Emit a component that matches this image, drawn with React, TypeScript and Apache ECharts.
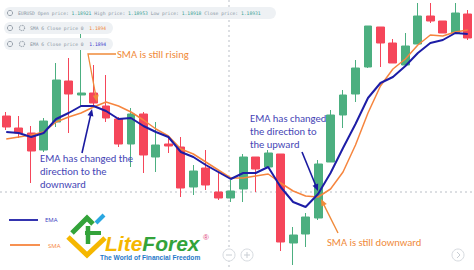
import React, { useEffect, useRef } from "react";
import * as echarts from "echarts";

// 38 consecutive bars; the first and last sit partly outside the frame
const categories: string[] = Array.from({ length: 38 }, (_, i) => `bar${i + 1}`);

// [open, close, low, high]
const candles: number[][] = [
  [1.18854, 1.18843, 1.1884, 1.18858],
  [1.18842, 1.18837, 1.18832, 1.18854],
  [1.18837, 1.18819, 1.18787, 1.18844],
  [1.1882, 1.18849, 1.18818, 1.18852],
  [1.18848, 1.1889, 1.18843, 1.18907],
  [1.18889, 1.18876, 1.18837, 1.18912],
  [1.18875, 1.18877, 1.18863, 1.18937],
  [1.18877, 1.18867, 1.18865, 1.18905],
  [1.18864, 1.18852, 1.18848, 1.18895],
  [1.18851, 1.18826, 1.18823, 1.18853],
  [1.18826, 1.18856, 1.18803, 1.18862],
  [1.18856, 1.18815, 1.18797, 1.18858],
  [1.18813, 1.18825, 1.18798, 1.18848],
  [1.18826, 1.18824, 1.18817, 1.18833],
  [1.18823, 1.18782, 1.18773, 1.18833],
  [1.18783, 1.18799, 1.18775, 1.18805],
  [1.18802, 1.18785, 1.1878, 1.1882],
  [1.18778, 1.18772, 1.1877, 1.18798],
  [1.18772, 1.18779, 1.18768, 1.1879],
  [1.18781, 1.18813, 1.18768, 1.18816],
  [1.18813, 1.18801, 1.18778, 1.18813],
  [1.18803, 1.18817, 1.18803, 1.1882],
  [1.18816, 1.18728, 1.18719, 1.18816],
  [1.18727, 1.18735, 1.18705, 1.18743],
  [1.18736, 1.18753, 1.18723, 1.18757],
  [1.18752, 1.18806, 1.1875, 1.1881],
  [1.18808, 1.18855, 1.18808, 1.1886],
  [1.18855, 1.18875, 1.18842, 1.1888],
  [1.18876, 1.18902, 1.18868, 1.1891],
  [1.18903, 1.18944, 1.18902, 1.18944],
  [1.18943, 1.18927, 1.18903, 1.18943],
  [1.18927, 1.18907, 1.18907, 1.18931],
  [1.18905, 1.18924, 1.18905, 1.18937],
  [1.18926, 1.18954, 1.18926, 1.18967],
  [1.18954, 1.18949, 1.18947, 1.18967],
  [1.18949, 1.18937, 1.18937, 1.18949],
  [1.18937, 1.18957, 1.18937, 1.18967],
  [1.18956, 1.18932, 1.1893, 1.1896],
];

const emaValues: number[] = [
  1.18838, 1.18837, 1.18833, 1.18837, 1.18851, 1.18857, 1.18864, 1.18864,
  1.18859, 1.18851, 1.18852, 1.18844, 1.18838, 1.18833, 1.18818, 1.18813,
  1.18805, 1.18798, 1.18791, 1.18797, 1.18797, 1.18803, 1.18783, 1.18768,
  1.18763, 1.18776, 1.18797, 1.18822, 1.18846, 1.18872, 1.18887, 1.18893,
  1.18904, 1.18917, 1.18927, 1.1893, 1.18937, 1.18936,
];

const smaValues: number[] = [
  1.18831, 1.18833, 1.18835, 1.18838, 1.18848, 1.18853, 1.18857, 1.18863,
  1.18868, 1.18864, 1.18858, 1.1885, 1.18841, 1.18834, 1.18821, 1.18816,
  1.18808, 1.188, 1.18792, 1.18792, 1.18794, 1.18796, 1.18787, 1.18779,
  1.18774, 1.18773, 1.18781, 1.18798, 1.18825, 1.18857, 1.18884, 1.18901,
  1.18911, 1.18925, 1.18935, 1.18934, 1.18938, 1.1894,
];

const quoteSymbol = "EURUSD";
const quoteLabels: string[] = ["Open price:", "High price:", "Low price:", "Close price:"];
const quoteValues: string[] = ["1.18921", "1.18953", "1.18918", "1.18931"];
const smaLegendLabel = "SMA 6 Close price 0";
const smaLegendValue = "1.1894";
const emaLegendLabel = "EMA 6 Close price 0";
const emaLegendValue = "1.1894";

const GREEN = "#4caf80";
const RED = "#f5465a";
const EMA_COLOR = "#1d1da6";
const SMA_COLOR = "#f6853e";
const NOTE_BLUE = "#4646b6";
const NOTE_ORANGE = "#f08a3a";
const ARROW_BLUE = "#1a1aa0";

const NOTE_FONT = "Carlito";

function arrow(pts: number[][], color: string, width: number, z = 100) {
  const n = pts.length;
  const [x1, y1] = pts[n - 2];
  const [x2, y2] = pts[n - 1];
  const len = Math.hypot(x2 - x1, y2 - y1);
  const dx = (x2 - x1) / len;
  const dy = (y2 - y1) / len;
  const bx = x2 - dx * 7;
  const by = y2 - dy * 7;
  const px = -dy;
  const py = dx;
  const shaft = pts.slice(0, n - 1).concat([[x2 - dx * 4, y2 - dy * 4]]);
  return [
    {
      type: "polyline",
      z,
      shape: { points: shaft },
      style: { stroke: color, lineWidth: width, fill: null },
    },
    {
      type: "polygon",
      z,
      shape: {
        points: [
          [x2, y2],
          [bx + px * 3, by + py * 3],
          [bx - px * 3, by - py * 3],
        ],
      },
      style: { fill: color },
    },
  ];
}

function note(x: number, y: number, text: string, color: string) {
  return {
    type: "text",
    z: 100,
    x,
    y,
    style: {
      text,
      fill: color,
      fontFamily: NOTE_FONT,
      fontSize: 10.6,
      lineHeight: 13,
      align: "left",
      verticalAlign: "middle",
    },
  };
}

function headerRow(y: number, w: number, withGear: boolean, rich: any, text: string) {
  const els: any[] = [
    {
      type: "rect",
      z: 90,
      shape: { x: 4, y: y - 6, width: w, height: 12, r: 6 },
      style: { fill: "#eef1f4" },
    },
    {
      type: "circle",
      z: 91,
      shape: { cx: 10, cy: y, r: 2.6 },
      style: { fill: null, stroke: "#9aa3ad", lineWidth: 1 },
    },
  ];
  if (withGear) {
    els.push({
      type: "circle",
      z: 91,
      shape: { cx: 22, cy: y, r: 2.6 },
      style: { fill: null, stroke: "#9aa3ad", lineWidth: 1.2, lineDash: [1.2, 0.8] },
    });
  }
  els.push({
    type: "text",
    z: 92,
    x: withGear ? 30 : 18,
    y,
    style: {
      text,
      rich,
      fontFamily: "DejaVu Sans Mono",
      fontSize: 4.7,
      fill: "#8a96a3",
      verticalAlign: "middle",
    },
  });
  return els;
}

export default function App() {
  const ref = useRef<HTMLDivElement>(null);

  useEffect(() => {
    if (!ref.current) return;
    const chart = echarts.init(ref.current, undefined, { renderer: "svg" });

    const monoRich = (color: string) => ({
      fontFamily: "DejaVu Sans Mono",
      fontSize: 4.7,
      fill: color,
    });

    const quoteText =
      `{l|${quoteSymbol}} ` +
      quoteLabels.map((l, i) => `{l|${l}} {v|${quoteValues[i]}}`).join(" ");

    const logoFont = {
      fontFamily: "Liberation Sans",
      fontWeight: "bold",
      fontStyle: "italic",
      fontSize: 21,
      lineHeight: 17,
    };

    const graphic: any[] = [
      // crosshair
      {
        type: "line",
        z: 1,
        shape: { x1: 0, y1: 192, x2: 474, y2: 192 },
        style: { stroke: "#b9bec6", lineWidth: 1, lineDash: [2, 3] },
      },
      {
        type: "line",
        z: 1,
        shape: { x1: 229, y1: 0, x2: 229, y2: 270 },
        style: { stroke: "#b9bec6", lineWidth: 1, lineDash: [2, 3] },
      },
      // header
      ...headerRow(13, 272, false, { l: monoRich("#8a96a3"), v: monoRich("#3fa394") }, quoteText),
      ...headerRow(28, 109, true, { l: monoRich("#8a96a3"), v: monoRich("#f0883a") }, `{l|${smaLegendLabel}}  {v|${smaLegendValue}}`),
      ...headerRow(44, 109, true, { l: monoRich("#8a96a3"), v: monoRich("#3d3dcc") }, `{l|${emaLegendLabel}}  {v|${emaLegendValue}}`),
      // annotations
      note(117, 54, "SMA is still rising", NOTE_ORANGE),
      ...arrow([[116, 54], [88, 54], [97, 102]], NOTE_ORANGE, 1.3),
      note(40, 171, "EMA has changed the\ndirection to the\ndownward", NOTE_BLUE),
      ...arrow([[82, 153], [92, 109]], ARROW_BLUE, 1.6),
      note(250, 131, "EMA has changed\nthe direction to\nthe upward", NOTE_BLUE),
      ...arrow([[302, 152], [318, 191]], ARROW_BLUE, 1.6),
      note(327, 242, "SMA is still downward", NOTE_ORANGE),
      ...arrow([[338, 233], [321, 199]], NOTE_ORANGE, 1.4),
      // line legend
      {
        type: "line",
        z: 100,
        shape: { x1: 9, y1: 220, x2: 38, y2: 220 },
        style: { stroke: EMA_COLOR, lineWidth: 1.8 },
      },
      {
        type: "text",
        z: 100,
        x: 45,
        y: 220,
        style: { text: "EMA", fill: "#3a3ac0", fontFamily: "Open Sans", fontSize: 6, verticalAlign: "middle" },
      },
      {
        type: "line",
        z: 100,
        shape: { x1: 10, y1: 245, x2: 40, y2: 245 },
        style: { stroke: SMA_COLOR, lineWidth: 1.8 },
      },
      {
        type: "text",
        z: 100,
        x: 48,
        y: 246,
        style: { text: "SMA", fill: SMA_COLOR, fontFamily: "Open Sans", fontSize: 6, verticalAlign: "middle" },
      },
      // LiteForex logo mark
      {
        type: "polyline",
        z: 100,
        shape: { points: [[68, 237], [87, 255], [105, 238]] },
        style: { stroke: "#f5b700", lineWidth: 5, fill: null, lineJoin: "miter" },
      },
      {
        type: "polyline",
        z: 101,
        shape: { points: [[72, 233], [87, 218], [93, 224]] },
        style: { stroke: "#33a33a", lineWidth: 5, fill: null, lineJoin: "miter" },
      },
      {
        type: "polyline",
        z: 101,
        shape: { points: [[88, 226], [88, 244]] },
        style: { stroke: "#33a33a", lineWidth: 4.5, fill: null },
      },
      {
        type: "polyline",
        z: 101,
        shape: { points: [[85, 233], [101, 233]] },
        style: { stroke: "#33a33a", lineWidth: 4, fill: null },
      },
      {
        type: "polyline",
        z: 102,
        shape: { points: [[96, 223], [104, 215]] },
        style: { stroke: "#2aa7e1", lineWidth: 4, fill: null },
      },
      {
        type: "text",
        z: 100,
        x: 105,
        y: 243,
        style: {
          text: "{a|Lite}{b|Forex}",
          verticalAlign: "middle",
          rich: {
            a: { ...logoFont, fill: "#f5b700" },
            b: { ...logoFont, fill: "#33a33a" },
          },
        },
      },
      {
        type: "text",
        z: 100,
        x: 203,
        y: 237,
        style: { text: "®", fill: "#e0457b", fontFamily: "Liberation Sans", fontSize: 8, verticalAlign: "middle" },
      },
      {
        type: "text",
        z: 100,
        x: 100,
        y: 257,
        style: {
          text: "The World of Financial Freedom",
          fill: "#1f78c8",
          fontFamily: "Liberation Sans",
          fontWeight: "bold",
          fontSize: 6.6,
          verticalAlign: "middle",
        },
      },
      // scroll buttons
      {
        type: "circle",
        z: 100,
        shape: { cx: 229, cy: 255, r: 6 },
        style: { fill: "#fff", stroke: "#d7dbe0", lineWidth: 1 },
      },
      {
        type: "line",
        z: 100,
        shape: { x1: 226, y1: 255, x2: 232, y2: 255 },
        style: { stroke: "#c9ced4", lineWidth: 1 },
      },
      {
        type: "circle",
        z: 100,
        shape: { cx: 247, cy: 255, r: 6 },
        style: { fill: "#fff", stroke: "#d7dbe0", lineWidth: 1 },
      },
      {
        type: "line",
        z: 100,
        shape: { x1: 244, y1: 255, x2: 250, y2: 255 },
        style: { stroke: "#c9ced4", lineWidth: 1 },
      },
      {
        type: "line",
        z: 100,
        shape: { x1: 247, y1: 252, x2: 247, y2: 258 },
        style: { stroke: "#c9ced4", lineWidth: 1 },
      },
      {
        type: "circle",
        z: 100,
        shape: { cx: 458, cy: 255, r: 6 },
        style: { fill: "#fff", stroke: "#d7dbe0", lineWidth: 1 },
      },
      {
        type: "polyline",
        z: 100,
        shape: { points: [[457, 252], [460, 255], [457, 258]] },
        style: { stroke: "#c9ced4", lineWidth: 1, fill: null },
      },
    ];

    chart.setOption({
      animation: false,
      backgroundColor: "#ffffff",
      grid: { left: -10.35, top: 0, width: 490.2, height: 270, containLabel: false },
      xAxis: {
        type: "category",
        data: categories,
        boundaryGap: true,
        show: false,
      },
      yAxis: {
        type: "value",
        min: 1.187,
        max: 1.1897,
        show: false,
        splitLine: { show: false },
      },
      series: [
        {
          type: "candlestick",
          data: candles,
          barWidth: 8.4,
          z: 2,
          itemStyle: {
            color: GREEN,
            color0: RED,
            borderColor: GREEN,
            borderColor0: RED,
            borderWidth: 1,
          },
        },
        {
          type: "line",
          data: smaValues,
          symbol: "none",
          z: 3,
          lineStyle: { color: SMA_COLOR, width: 1.5 },
        },
        {
          type: "line",
          data: emaValues,
          symbol: "none",
          z: 4,
          lineStyle: { color: EMA_COLOR, width: 2 },
        },
      ],
      graphic,
    });

    return () => chart.dispose();
  }, []);

  return (
    <div
      ref={ref}
      style={{ position: "fixed", left: 0, top: 0, width: 474, height: 270, background: "#fff" }}
    />
  );
}
